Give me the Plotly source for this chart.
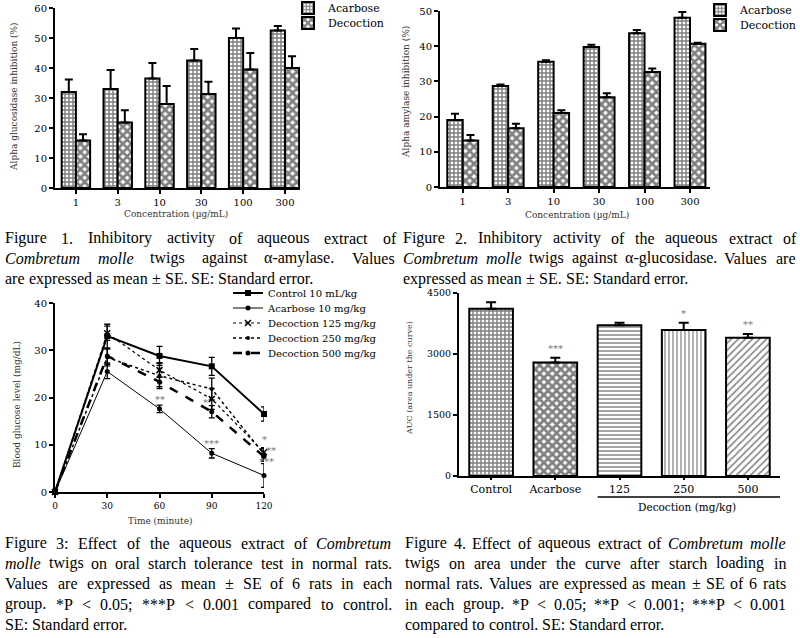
import plotly.graph_objects as go

# ---------------- data ----------------
conc_labels = ["1", "3", "10", "30", "100", "300"]

gluc_acarbose = [32.0, 33.0, 36.5, 42.5, 50.0, 52.5]
gluc_acarbose_se = [4.2, 6.3, 5.2, 3.8, 3.2, 1.5]
gluc_decoction = [15.8, 21.8, 28.0, 31.3, 39.5, 40.0]
gluc_decoction_se = [2.1, 4.1, 6.0, 4.1, 5.5, 3.9]

amyl_acarbose = [19.0, 28.7, 35.6, 39.8, 43.7, 48.1]
amyl_acarbose_se = [1.8, 0.4, 0.4, 0.6, 0.9, 1.6]
amyl_decoction = [13.2, 16.7, 21.0, 25.5, 32.7, 40.7]
amyl_decoction_se = [1.6, 1.3, 0.8, 1.1, 1.0, 0.3]

time_min = [0, 30, 60, 90, 120]
ost_control = [0, 33.0, 28.8, 26.6, 16.5]
ost_control_se = [0, 2.5, 2.0, 1.9, 1.5]
ost_acarbose = [0, 25.5, 17.6, 8.2, 3.5]
ost_acarbose_se = [0, 1.5, 0.8, 1.0, 2.5]
ost_dec125 = [0, 33.6, 25.8, 19.7, 8.4]
ost_dec125_se = [0, 1.5, 1.5, 2.2, 1.0]
ost_dec250 = [0, 28.5, 24.6, 21.8, 8.0]
ost_dec250_se = [0, 1.8, 2.7, 2.3, 1.2]
ost_dec500 = [0, 28.8, 23.3, 17.0, 7.5]
ost_dec500_se = [0, 1.5, 1.0, 1.3, 1.0]

auc_groups = ["Control", "Acarbose", "125", "250", "500"]
auc_values = [4110, 2790, 3710, 3590, 3400]
auc_se = [160, 120, 60, 180, 90]
auc_marks = ["", "***", "", "*", "**"]

cap1 = ["Figure 1. Inhibitory activity of aqueous extract of",
        "<i>Combretum molle</i> twigs against α-amylase. Values",
        "are expressed as mean ± SE. SE: Standard error."]
cap2 = ["Figure 2. Inhibitory activity of the aqueous extract of",
        "<i>Combretum molle</i> twigs against α-glucosidase. Values are",
        "expressed as mean ± SE. SE: Standard error."]
cap3 = ["Figure 3: Effect of the aqueous extract of <i>Combretum</i>",
        "<i>molle</i> twigs on oral starch tolerance test in normal rats.",
        "Values are expressed as mean ± SE of 6 rats in each",
        "group. *P < 0.05; ***P < 0.001 compared to control.",
        "SE: Standard error."]
cap4 = ["Figure 4.  Effect of aqueous extract of <i>Combretum molle</i>",
        "twigs on area under the curve after starch loading in",
        "normal rats. Values are expressed as mean ± SE of 6 rats",
        "in each group. *P < 0.05; **P < 0.001; ***P < 0.001",
        "compared to control. SE: Standard error."]

SERIF = "DejaVu Serif"
CAP = "Liberation Serif"
W, H = 800, 638


def py(p):
    return 1 - p / H


def px(p):
    return p / W


def up_err(arr, w=4, th=2):
    return dict(type="data", array=arr, arrayminus=[0] * len(arr), symmetric=False,
                color="black", thickness=th, width=w)


fig = go.Figure()

ACA_PAT = dict(shape="+", size=4, solidity=0.6, fgcolor="black", bgcolor="white", fillmode="overlay")
DEC_PAT = dict(shape="x", size=6, solidity=0.7, fgcolor="black", bgcolor="white", fillmode="overlay")
BAR_LINE = dict(color="black", width=2)

# Panel 1
fig.add_trace(go.Bar(x=conc_labels, y=gluc_acarbose, name="Acarbose", xaxis="x", yaxis="y",
                     marker=dict(color="white", pattern=ACA_PAT, line=BAR_LINE),
                     error_y=up_err(gluc_acarbose_se), legend="legend"))
fig.add_trace(go.Bar(x=conc_labels, y=gluc_decoction, name="Decoction", xaxis="x", yaxis="y",
                     marker=dict(color="white", pattern=DEC_PAT, line=BAR_LINE),
                     error_y=up_err(gluc_decoction_se), legend="legend2"))
# Panel 2
fig.add_trace(go.Bar(x=conc_labels, y=amyl_acarbose, name="Acarbose", xaxis="x2", yaxis="y2",
                     marker=dict(color="white", pattern=ACA_PAT, line=BAR_LINE),
                     error_y=up_err(amyl_acarbose_se), legend="legend3"))
fig.add_trace(go.Bar(x=conc_labels, y=amyl_decoction, name="Decoction", xaxis="x2", yaxis="y2",
                     marker=dict(color="white", pattern=DEC_PAT, line=BAR_LINE),
                     error_y=up_err(amyl_decoction_se), legend="legend4"))

# Panel 3
line_specs = [
    ("Control 10 mL/kg", ost_control, ost_control_se, dict(color="black", width=2, dash="solid"), dict(symbol="square", size=6)),
    ("Acarbose 10 mg/kg", ost_acarbose, ost_acarbose_se, dict(color="black", width=1, dash="solid"), dict(symbol="circle", size=5)),
    ("Decoction 125 mg/kg", ost_dec125, ost_dec125_se, dict(color="black", width=1.2, dash="dot"), dict(symbol="x-thin", size=6, line=dict(width=1.5, color="black"))),
    ("Decoction 250 mg/kg", ost_dec250, ost_dec250_se, dict(color="black", width=1.5, dash="dot"), dict(symbol="circle", size=4)),
    ("Decoction 500 mg/kg", ost_dec500, ost_dec500_se, dict(color="black", width=2.5, dash="dash"), dict(symbol="circle", size=5)),
]
for i, (name, ys, se, ln, mk) in enumerate(line_specs):
    fig.add_trace(go.Scatter(x=time_min, y=ys, name=name, xaxis="x3", yaxis="y3", mode="lines+markers",
                             line=ln, marker=dict(color="black", **mk), cliponaxis=False,
                             error_y=dict(type="data", array=se, color="black", thickness=1.3, width=3),
                             legend="legend%d" % (5 + i)))

# Panel 4
fig.add_trace(go.Bar(x=auc_groups, y=auc_values, xaxis="x4", yaxis="y4", showlegend=False,
                     marker=dict(color="white", line=BAR_LINE,
                                 pattern=dict(shape=["+", "x", "-", "|", "/"], size=[4, 6, 4, 4, 5],
                                              solidity=[0.6, 0.7, 0.35, 0.3, 0.3],
                                              fgcolor="black", bgcolor="white", fillmode="overlay")),
                     error_y=up_err(auc_se, w=5)))


def axis(**kw):
    d = dict(showline=True, linecolor="black", linewidth=2, ticks="outside", ticklen=4,
             tickwidth=1.5, tickcolor="black", showgrid=False, zeroline=False, automargin=False,
             tickfont=dict(family=SERIF, size=10, color="black"))
    d.update(kw)
    return d


def leg(x, y, size):
    return dict(x=px(x), y=py(y), xanchor="left", yanchor="middle", bgcolor="rgba(0,0,0,0)",
                font=dict(family=SERIF, size=size, color="black"))


fig.update_layout(
    width=W, height=H, margin=dict(l=0, r=0, t=0, b=0, pad=0, autoexpand=False),
    paper_bgcolor="white", plot_bgcolor="white",
    barmode="group", bargap=0.32, bargroupgap=0,
    xaxis=axis(domain=[px(55), px(300)], anchor="y", type="category", range=[-0.5, 5.36]),
    yaxis=axis(domain=[py(188), py(8)], anchor="x", range=[0, 60], dtick=10),
    xaxis2=axis(domain=[px(440), px(710)], anchor="y2", type="category", range=[-0.5, 5.44]),
    yaxis2=axis(domain=[py(187), py(11)], anchor="x2", range=[0, 50], dtick=10),
    xaxis3=axis(domain=[px(55), px(264)], anchor="y3", range=[0, 120], tickvals=time_min,
                tickfont=dict(family=SERIF, size=9, color="black")),
    yaxis3=axis(domain=[py(492), py(303)], anchor="x3", range=[0, 40], dtick=10),
    xaxis4=axis(domain=[px(459), px(780)], anchor="y4", type="category", range=[-0.5, 4.5],
                ticklen=2, tickfont=dict(family=SERIF, size=11, color="black")),
    yaxis4=axis(domain=[py(476), py(293)], anchor="x4", range=[0, 4500], dtick=1500,
                tickfont=dict(family=SERIF, size=9.5, color="black")),
    legend=leg(288, 8, 11), legend2=leg(288, 23, 11),
    legend3=leg(700, 10, 11), legend4=leg(700, 25, 11),
    legend5=leg(228, 293, 10), legend6=leg(228, 308, 10), legend7=leg(228, 323, 10),
    legend8=leg(228, 338, 10), legend9=leg(228, 353, 10),
)

ann = []


def label(text, x, y, size=9, angle=0, color="#333", family=SERIF, xanchor="center", yanchor="middle",
          xref="paper", yref="paper", xshift=0, yshift=0):
    ann.append(dict(text=text, x=x, y=y, xref=xref, yref=yref, showarrow=False, textangle=angle,
                    font=dict(family=family, size=size, color=color), xanchor=xanchor, yanchor=yanchor,
                    xshift=xshift, yshift=yshift))


# axis titles
label("Alpha glucosidase inhibition (%)", px(14), py(97), size=9, angle=-90)
label("Concentration (µg/mL)", px(176), py(214), size=9)
label("Alpha amylase inhibition (%)", px(406), py(92), size=9, angle=-90)
label("Concentration (µg/mL)", px(577), py(215), size=9)
label("Blood glucose level (mg/dL)", px(17), py(405), size=9, angle=-90)
label("Time (minute)", px(160), py(521), size=9)
label("AUC (area under the curve)", px(409), py(378), size=8, angle=-90)
label("Decoction (mg/kg)", 3.05, py(507), size=10.5, color="black", xref="x4")

# significance marks
star_col = "#777"
label("**", 60, 19.6, size=10, color=star_col, xref="x3", yref="y3")
label("*", 90, 18.9, size=10, color=star_col, xref="x3", yref="y3", xshift=-6)
label("***", 90, 10.3, size=10, color=star_col, xref="x3", yref="y3")
label("*", 120, 11.2, size=10, color=star_col, xref="x3", yref="y3")
label("**", 120, 8.8, size=10, color=star_col, xref="x3", yref="y3", xshift=7)
label("***", 120, 6.5, size=10, color=star_col, xref="x3", yref="y3", xshift=2)
for i, (v, s, m) in enumerate(zip(auc_values, auc_se, auc_marks)):
    if m:
        ann.append(dict(text=m, x=i, y=v + s, xref="x4", yref="y4", showarrow=False, yanchor="bottom",
                        yshift=2, font=dict(family=SERIF, size=10, color=star_col)))

# ---- justified captions (Times metrics, Liberation Serif is metric compatible) ----
UP = dict(A=722, B=667, C=667, D=722, E=611, F=556, G=722, H=722, I=333, J=389, K=722, L=611, M=889,
          N=722, O=722, P=556, Q=722, R=667, S=556, T=611, U=722, V=722, W=944, X=722, Y=722, Z=611)
SYM = {' ': 250, '!': 333, '(': 333, ')': 333, '*': 500, '+': 564, ',': 250, '-': 333, '.': 250,
       '/': 278, ':': 278, ';': 278, '<': 564, '=': 564, '>': 564, '±': 564, 'α': 520}
for d in "0123456789":
    SYM[d] = 500
ROMAN = dict(SYM, **UP, **dict(a=444, b=500, c=444, d=500, e=444, f=333, g=500, h=500, i=278, j=278,
                                k=500, l=278, m=778, n=500, o=500, p=500, q=500, r=333, s=389, t=278,
                                u=500, v=500, w=722, x=500, y=500, z=444))
ITAL = dict(SYM, **UP, **dict(a=500, b=500, c=444, d=500, e=444, f=278, g=500, h=500, i=278, j=278,
                               k=444, l=278, m=722, n=500, o=500, p=500, q=500, r=389, s=389, t=278,
                               u=500, v=444, w=667, x=444, y=444, z=389))
CAP_SIZE = 16


def tokens(line):
    out, ital = [], False
    for tok in line.split():
        if tok.startswith("<i>"):
            ital, tok = True, tok[3:]
        end = tok.endswith("</i>")
        if end:
            tok = tok[:-4]
        out.append((tok, ital))
        if end:
            ital = False
    return out


def caption(lines, x0, width, y0, dy=20.4):
    for li, line in enumerate(lines):
        toks = tokens(line)
        widths = [sum((ITAL if it else ROMAN).get(c, 500) for c in t) * CAP_SIZE / 1000 for t, it in toks]
        last = li == len(lines) - 1
        if last or len(toks) < 2:
            gap = 250 * CAP_SIZE / 1000
        else:
            gap = (width - sum(widths)) / (len(toks) - 1)
        x = x0
        for (t, it), w in zip(toks, widths):
            txt = t.replace("<", "&lt;")
            if it:
                txt = "<i>" + txt + "</i>"
            ann.append(dict(text=txt, x=px(x), y=py(y0 + li * dy), xref="paper", yref="paper",
                            showarrow=False, xanchor="left", yanchor="middle", borderpad=0,
                            font=dict(family=CAP, size=CAP_SIZE, color="black")))
            x += w + gap


caption(cap1, 4, 391, 238)
caption(cap2, 402, 393, 238)
caption(cap3, 4, 387, 543)
caption(cap4, 404, 381, 543)

fig.update_layout(annotations=ann)
fig.add_shape(type="line", xref="x4", yref="paper", x0=1.66, x1=4.5, y0=py(497), y1=py(497),
              line=dict(color="black", width=1.5))

fig.write_html("out.html", config={"displayModeBar": False},
               post_script="document.body.style.margin='0px';document.body.style.overflow='hidden';")
